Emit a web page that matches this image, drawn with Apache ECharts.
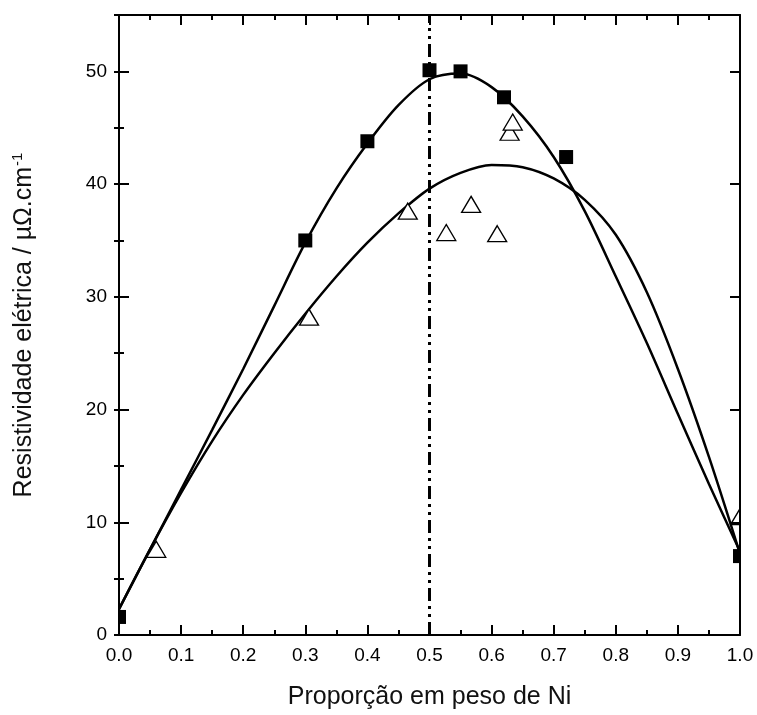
<!DOCTYPE html>
<html>
<head>
<meta charset="utf-8">
<script src="https://cdn.jsdelivr.net/npm/echarts@6/dist/echarts.min.js"></script>
<style>html,body{margin:0;padding:0;background:#fff}#c{width:757px;height:715px}</style>
</head>
<body>
<div id="c"></div>
<script>
// Measured points: filled squares
const squareX = [0.0, 0.30, 0.40, 0.50, 0.55, 0.62, 0.72, 1.00];
const squareY = [1.6, 35.0, 43.8, 50.1, 50.0, 47.7, 42.4, 7.0];
// Measured points: open triangles
const triX = [0.06, 0.306, 0.465, 0.527, 0.567, 0.609, 0.629, 0.634, 1.00];
const triY = [7.6, 28.2, 37.6, 35.7, 38.2, 35.6, 44.6, 45.5, 10.5];
// Fitted curves
const fitX = [0.00, 0.05, 0.10, 0.15, 0.20, 0.25, 0.30, 0.35, 0.40, 0.45, 0.50, 0.55, 0.60, 0.65, 0.70, 0.75, 0.80, 0.85, 0.90, 0.95, 1.00];
const fitSquares = [2.3, 7.6, 12.9, 18.2, 23.6, 29.2, 34.8, 39.6, 43.6, 47.0, 49.3, 49.8, 48.6, 46.0, 42.4, 37.6, 31.8, 25.9, 19.6, 13.4, 7.4];
const fitTriangles = [2.3, 7.6, 12.6, 17.2, 21.3, 25.0, 28.5, 31.8, 34.8, 37.4, 39.6, 41.0, 41.7, 41.5, 40.5, 38.6, 35.5, 30.4, 23.6, 15.8, 7.2];
const markX = 0.5;
const xTitle = 'Proporção em peso de Ni';
const yTitle = 'Resistividade elétrica / µΩ.cm{sup|-1}';

const zip = (xs, ys) => xs.map((x, i) => [x, ys[i]]);
const font = 'Liberation Sans, Arial, sans-serif';
const chart = echarts.init(document.getElementById('c'), null, {renderer: 'canvas'});

const baseX = {type: 'value', min: 0, max: 1, interval: 0.1, splitLine: {show: false}, z: 10};
const baseY = {type: 'value', min: 0, max: 55, splitLine: {show: false}, z: 10};
const axLine = {show: true, onZero: false, lineStyle: {color: '#000', width: 2}};
const tick = len => ({show: true, inside: true, length: len, lineStyle: {color: '#000', width: 2}});

chart.setOption({
  animation: false,
  grid: {left: 119, right: 17, top: 15, bottom: 79},
  graphic: [
    {type: 'rect', left: 0, top: 0, shape: {width: 118, height: 715}, style: {fill: '#fff'}, z: 5, silent: true},
    {type: 'rect', right: 0, top: 0, shape: {width: 16, height: 715}, style: {fill: '#fff'}, z: 5, silent: true}
  ],
  xAxis: [
    Object.assign({}, baseX, {
      position: 'bottom',
      axisLine: axLine,
      axisTick: tick(10),
      minorTick: {show: true, splitNumber: 2, length: 5, lineStyle: {color: '#000', width: 2}},
      axisLabel: {show: true, margin: 11, color: '#000', fontSize: 19, fontFamily: font,
        formatter: v => v.toFixed(1)},
      name: xTitle, nameLocation: 'middle', nameGap: 50,
      nameTextStyle: {fontSize: 25, color: '#111', fontFamily: font}
    }),
    Object.assign({}, baseX, {
      position: 'top',
      axisLine: axLine,
      axisTick: tick(10),
      minorTick: {show: true, splitNumber: 2, length: 5, lineStyle: {color: '#000', width: 2}},
      axisLabel: {show: false}
    })
  ],
  yAxis: [
    Object.assign({}, baseY, {
      position: 'left', interval: 10,
      axisLine: axLine,
      axisTick: tick(10),
      axisLabel: {show: true, margin: 12, color: '#000', fontSize: 19, fontFamily: font,
        formatter: v => (v % 10 === 0 ? String(v) : '')},
      name: yTitle, nameLocation: 'middle', nameGap: 80,
      nameTextStyle: {fontSize: 25, color: '#111', fontFamily: font,
        rich: {sup: {fontSize: 15, color: '#111', fontFamily: font, padding: [0, 0, 14, 1]}}}
    }),
    Object.assign({}, baseY, {
      position: 'left', interval: 5,
      axisLine: {show: false},
      axisTick: tick(5),
      axisLabel: {show: false}
    }),
    Object.assign({}, baseY, {
      position: 'right', interval: 10,
      axisLine: axLine,
      axisTick: tick(10),
      axisLabel: {show: false}
    }),
    Object.assign({}, baseY, {
      position: 'right', interval: 5,
      axisLine: {show: false},
      axisTick: tick(5),
      axisLabel: {show: false}
    })
  ],
  series: [
    {
      type: 'line', data: zip(fitX, fitSquares), smooth: 0.3, showSymbol: false,
      lineStyle: {color: '#000', width: 2.5}, z: 2,
      markLine: {
        silent: true, symbol: ['none', 'none'], label: {show: false},
        lineStyle: {color: '#000', width: 3, type: [13, 5, 3, 5, 3, 5]},
        data: [{xAxis: markX}]
      }
    },
    {
      type: 'line', data: zip(fitX, fitTriangles), smooth: 0.3, showSymbol: false,
      lineStyle: {color: '#000', width: 2.5}, z: 2
    },
    {
      type: 'scatter', data: zip(triX, triY), symbol: 'triangle', symbolSize: [19, 16],
      itemStyle: {color: '#fff', borderColor: '#000', borderWidth: 1.3, opacity: 1}, z: 3
    },
    {
      type: 'scatter', data: zip(squareX, squareY), symbol: 'rect', symbolSize: 14,
      itemStyle: {color: '#000', opacity: 1}, z: 4
    }
  ]
});
</script>
</body>
</html>
